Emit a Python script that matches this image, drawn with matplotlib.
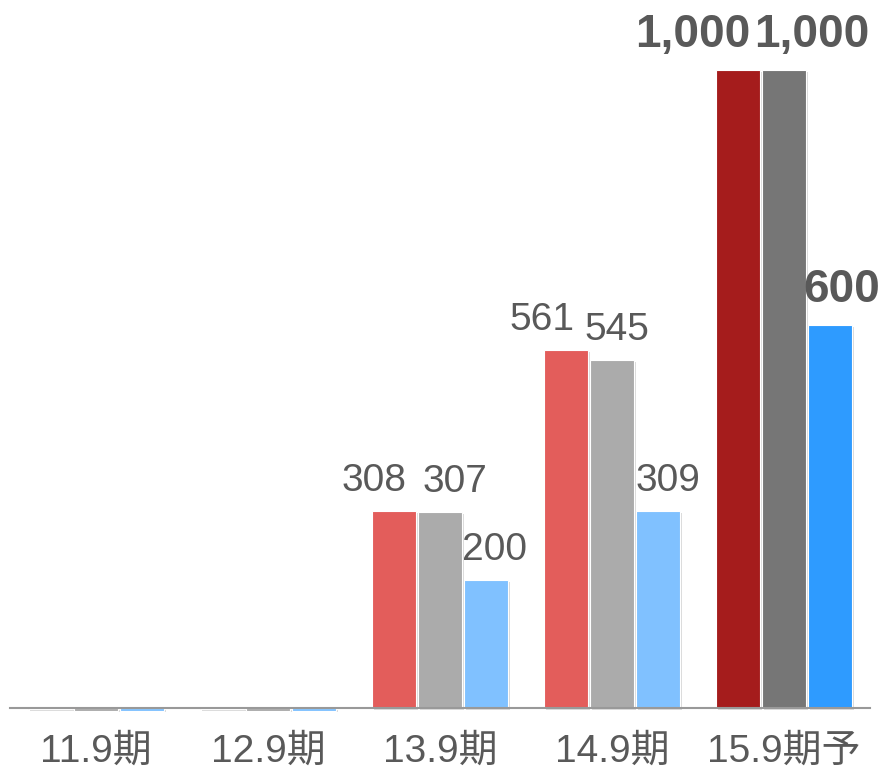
import matplotlib
matplotlib.use("Agg")
import matplotlib.pyplot as plt
import matplotlib.patheffects as pe
import numpy as np

plt.rcParams['font.family'] = ['Liberation Sans', 'Noto Sans CJK JP', 'DejaVu Sans']

# Data
periods = ["11.9期", "12.9期", "13.9期", "14.9期", "15.9期予"]
sales = [-2, -2, 308, 561, 1000]
gross = [-4, -4, 307, 545, 1000]
profit = [-4, -4, 200, 309, 600]

label_offsets = {  # horizontal nudge (px) of each value label, per series
    0: {2: -20, 3: -24, 4: -45},
    1: {2: 15, 3: 5, 4: 28},
    2: {2: 9, 3: 10, 4: 12},
}

colors_actual = ["#E35D5B", "#ABABAB", "#80C1FF"]
colors_plan = ["#A51C1C", "#767676", "#2E9BFF"]

W, H = 883, 771
fig = plt.figure(figsize=(W / 100, H / 100), dpi=100)

# axes geometry in pixels
x_left, x_right = 10, 870
y_zero, ppu = 708, 0.638
y_bottom_px = 730
ax = fig.add_axes([x_left / W, (H - y_bottom_px) / H, (x_right - x_left) / W, y_bottom_px / H])
ax.set_xlim(-0.5, 4.5)
ax.set_ylim(-(y_bottom_px - y_zero) / ppu, y_zero / ppu)
ax.axis("off")

x = np.arange(len(periods))
width = 0.256
step = 0.267
series = [sales, gross, profit]
shadow = [pe.SimplePatchShadow(offset=(1.2, -1.2), shadow_rgbFace="#999999", alpha=0.35), pe.Normal()]

for si, vals in enumerate(series):
    cols = [colors_plan[si] if i == len(periods) - 1 else colors_actual[si] for i in range(len(periods))]
    bars = ax.bar(x + (si - 1) * step, vals, width, color=cols, edgecolor="white",
                  linewidth=0.8, zorder=2)
    for b in bars:
        b.set_path_effects(shadow)
    for i, v in enumerate(vals):
        if v <= 0:
            continue
        bold = i == len(periods) - 1
        ax.annotate(f"{v:,}", xy=(x[i] + (si - 1) * step, v),
                    xytext=(label_offsets[si][i] * 0.72, (23 if bold else 20) * 0.72),
                    textcoords="offset points", ha="center", va="baseline",
                    fontsize=33 if bold else 28, fontweight="bold" if bold else "normal",
                    color="#595959", zorder=3)

# baseline
ax.plot([-0.5, 4.5], [0, 0], color="#999999", linewidth=1.5, zorder=3, clip_on=False)

# category labels
for i, p in enumerate(periods):
    ax.annotate(p, xy=(x[i], 0), xytext=(0, -54 * 0.72), textcoords="offset points",
                ha="center", va="baseline", fontsize=28, color="#595959",
                annotation_clip=False)

fig.savefig("out.png", dpi=100)
